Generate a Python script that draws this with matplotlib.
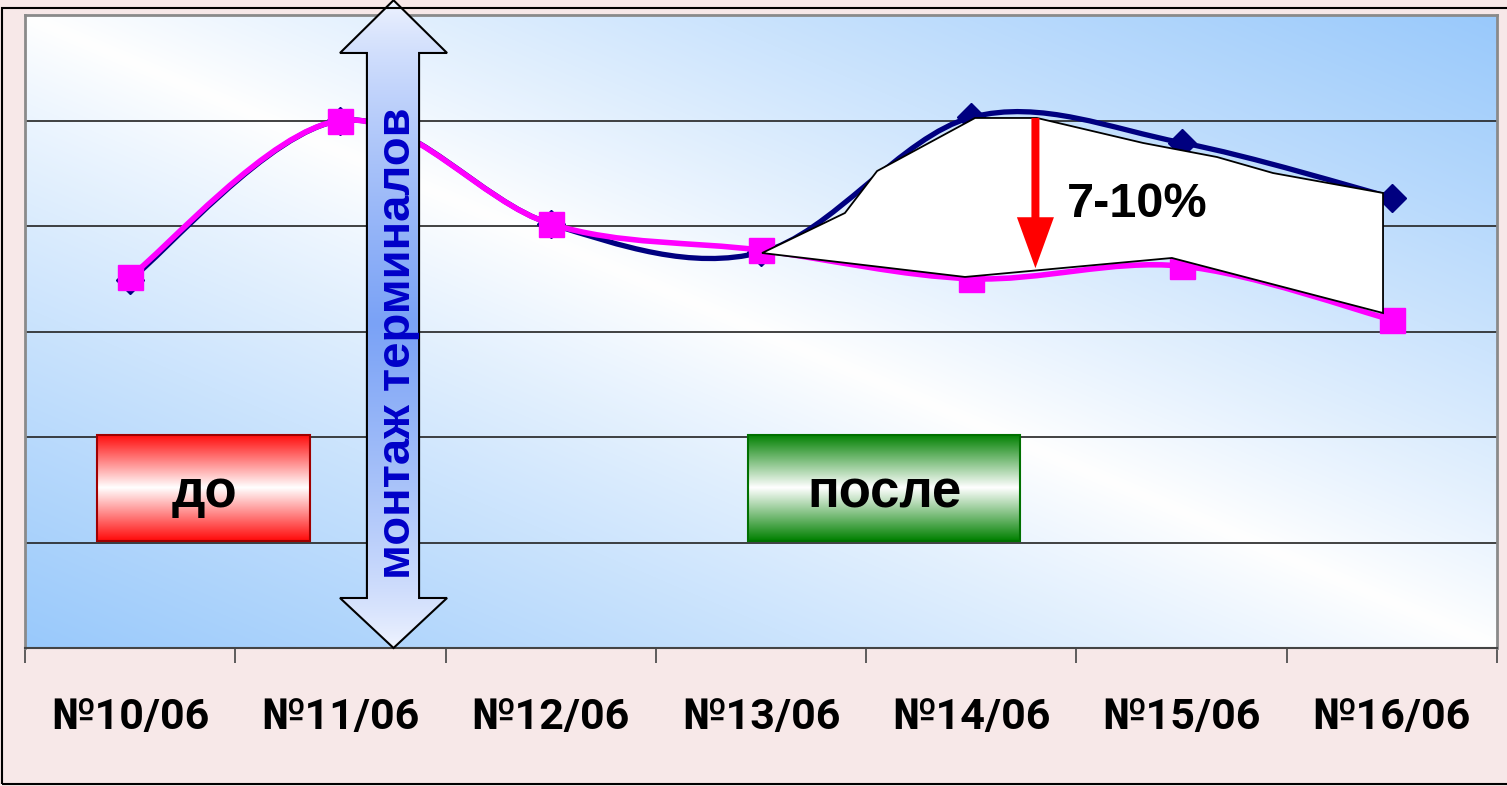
import numpy as np
import matplotlib
matplotlib.use('Agg')
import matplotlib.pyplot as plt
from matplotlib.path import Path
from matplotlib.patches import PathPatch, Polygon, Rectangle
from matplotlib.colors import to_rgb

# data
categories = ['№10/06', '№11/06', '№12/06', '№13/06', '№14/06', '№15/06', '№16/06']
pink_vals = [35.2, 50.0, 40.2, 37.7, 35.0, 36.2, 31.1]
navy_vals = [34.9, 50.0, 40.2, 37.5, 50.3, 47.9, 42.7]

# hand drawn annotation shapes (data units)
gap_x = [3.005, 3.399, 3.552, 4.018, 4.312, 4.817, 5.168, 5.435, 5.958, 5.958, 4.954, 3.970]
gap_y = [37.44, 41.23, 45.21, 50.24, 50.24, 47.87, 46.54, 45.02, 43.13, 31.75, 36.97, 35.17]


def smooth_path(xs, ys):
    # excel-like smoothed line, catmull-rom as cubic bezier
    p = np.column_stack([xs, ys]).astype(float)
    n = len(p)
    verts = [p[0]]
    codes = [Path.MOVETO]
    for i in range(n - 1):
        p0 = p[i - 1] if i > 0 else p[i]
        p3 = p[i + 2] if i + 2 < n else p[i + 1]
        c1 = p[i] + (p[i + 1] - p0) / 6
        c2 = p[i + 1] - (p3 - p[i]) / 6
        verts += [c1, c2, p[i + 1]]
        codes += [Path.CURVE4] * 3
    return Path(verts, codes)


def vgrad(c_end, c_mid, n=200, gamma=1.0):
    t = np.linspace(0, 1, n)
    w = (1 - np.abs(2 * t - 1)) ** gamma
    a = np.array(to_rgb(c_end))
    b = np.array(to_rgb(c_mid))
    arr = a[None, :] * (1 - w[:, None]) + b[None, :] * w[:, None]
    return arr[:, None, :]


fig = plt.figure(figsize=(15.07, 7.86), dpi=100)
fig.patch.set_facecolor('#f7e8e8')
ax = fig.add_axes([25 / 1507, 138 / 786, 1472 / 1507, 633 / 786])

# plot area diagonal gradient
u = np.linspace(0, 1, 300)
v = np.linspace(0, 1, 150)
U, V = np.meshgrid(u, v)
b = np.abs(U + V - 1) ** 0.9
blue = np.array(to_rgb('#99c9fb'))
bg = 1 - b[..., None] * (1 - blue)
ax.imshow(bg, extent=[0, 1, 0, 1], transform=ax.transAxes, origin='lower',
          aspect='auto', zorder=-2, interpolation='bilinear')

xs = np.arange(len(categories))

# lines
ax.add_patch(PathPatch(smooth_path(xs, navy_vals), fill=False, ec='#000080', lw=3.8,
                       capstyle='round', joinstyle='round', zorder=2))
ax.plot(xs, navy_vals, ls='none', marker='D', ms=14, color='#000080', zorder=2)
ax.add_patch(PathPatch(smooth_path(xs, pink_vals), fill=False, ec='#ff00ff', lw=4.0,
                       capstyle='round', joinstyle='round', zorder=3))
ax.plot(xs, pink_vals, ls='none', marker='s', ms=18, mfc='#ff00ff', mec='#ff00ff', zorder=4)

# white gap shape + red arrow + label
ax.add_patch(Polygon(np.column_stack([gap_x, gap_y]), closed=True, fc='white', ec='black',
                     lw=1.3, zorder=5))
ax.arrow(4.305, 50.24, 0, -(50.24 - 36.0), width=0.038, head_width=0.176, head_length=4.83,
         length_includes_head=True, fc='#ff0000', ec='#ff0000', lw=0, zorder=7)
ax.text(4.788, 40.85, '7-10%', fontsize=35, fontweight='bold', family='Liberation Sans',
        ha='center', va='baseline', zorder=8)

# double block arrow "монтаж терминалов"
cx = 1.2525
arr_pts = [(cx, 61.4), (1.507, 56.4), (1.374, 56.4), (1.374, 4.74), (1.507, 4.74), (cx, 0.0),
           (0.998, 4.74), (1.126, 4.74), (1.126, 56.4), (0.998, 56.4)]
arr_patch = Polygon(arr_pts, closed=True, fc='none', ec='black', lw=1.5, zorder=7, clip_on=False)
ax.add_patch(arr_patch)
im = ax.imshow(vgrad('#f4f7ff', '#7aa2f6', gamma=0.7), extent=[0.99, 1.52, -0.2, 61.6],
               origin='lower', aspect='auto', zorder=6, interpolation='bilinear')
im.set_clip_path(arr_patch)
im.set_clip_box(fig.bbox)
ax.text(1.331, 28.9, 'монтаж терминалов', rotation=90, rotation_mode='anchor',
        fontsize=34, fontweight='bold', family='Liberation Sans', color='#0000c8',
        ha='center', va='baseline', zorder=8)

# "до" / "после" boxes
for (x0, x1, tx, label, c_end, c_edge) in [(-0.158, 0.855, 0.351, 'до', '#ff0a0a', '#a00000'),
                                           (2.938, 4.232, 3.585, 'после', '#008000', '#007000')]:
    ax.imshow(vgrad(c_end, '#ffffff'), extent=[x0, x1, 10.14, 20.19], origin='lower',
              aspect='auto', zorder=6, interpolation='bilinear')
    ax.add_patch(Rectangle((x0, 10.14), x1 - x0, 10.05, fill=False, ec=c_edge, lw=1.5, zorder=6))
    ax.text(tx, 13.36, label, fontsize=38, fontweight='bold', family='Liberation Sans',
            ha='center', va='baseline', zorder=8)

# axes styling
ax.set_xlim(-0.5, 6.5)
ax.set_ylim(0, 60)
ax.set_xticks(np.arange(-0.5, 7, 1))
ax.set_xticklabels([])
ax.tick_params(axis='x', which='major', length=11, width=1.2, color='#444444', direction='out')
ax.set_xticks(xs, minor=True)
ax.set_xticklabels(categories, minor=True, fontsize=31, fontweight='bold',
                   family=['Roboto', 'DejaVu Sans'])
ax.tick_params(axis='x', which='minor', length=0, pad=35)
ax.set_yticks([10, 20, 30, 40, 50])
ax.tick_params(axis='y', length=0, labelleft=False)
ax.grid(axis='y', color='#222222', lw=1.2)
ax.set_axisbelow(True)
for s in ['left', 'top', 'right']:
    ax.spines[s].set_color('#8a8a8a')
    ax.spines[s].set_linewidth(2)
ax.spines['bottom'].set_color('#444444')
ax.spines['bottom'].set_linewidth(1.5)

# outer frame
fig.patches.append(Rectangle((2 / 1507, 2 / 786), 1.2, 776 / 786, transform=fig.transFigure,
                             fill=False, ec='black', lw=1.5))

fig.savefig('out.png', dpi=100, facecolor=fig.get_facecolor())
